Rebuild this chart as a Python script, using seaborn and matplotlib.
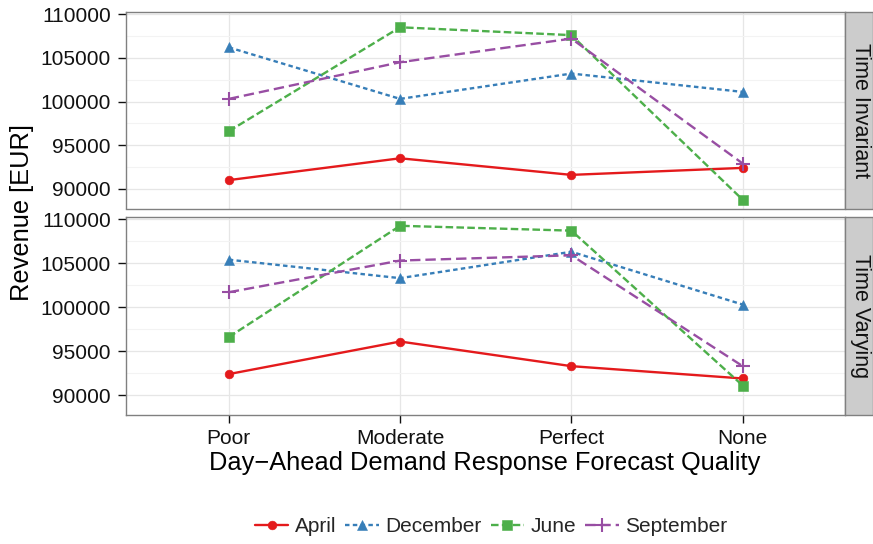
import matplotlib
matplotlib.use("Agg")
import matplotlib.pyplot as plt
from matplotlib.patches import Rectangle
from matplotlib.ticker import MultipleLocator
import seaborn as sns
import pandas as pd

quality = ["Poor", "Moderate", "Perfect", "None"]
months = ["April", "December", "June", "September"]
panels = ["Time Invariant", "Time Varying"]

inv_april = [91000, 93500, 91600, 92400]
inv_december = [106200, 100300, 103200, 101100]
inv_june = [96600, 108500, 107600, 88750]
inv_september = [100300, 104500, 107200, 92900]

var_april = [92400, 96100, 93300, 91900]
var_december = [105400, 103300, 106300, 100300]
var_june = [96600, 109250, 108700, 91100]
var_september = [101700, 105300, 105900, 93300]

values = {
    "Time Invariant": [inv_april, inv_december, inv_june, inv_september],
    "Time Varying": [var_april, var_december, var_june, var_september],
}

rows = []
for p in panels:
    for m, vals in zip(months, values[p]):
        for q, v in zip(quality, vals):
            rows.append({"panel": p, "month": m, "quality": q, "revenue": v})
df = pd.DataFrame(rows)

colors = {"April": "#E41A1C", "December": "#377EB8", "June": "#4DAF4A", "September": "#984EA3"}
dashes = {"April": "", "December": (1.9, 1.4), "June": (3.2, 1.4), "September": (4.4, 2.1)}
# "P" is swapped for a thin "+" after drawing (seaborn refuses to mix filled and line markers)
markers = {"April": "o", "December": "^", "June": "s", "September": "P"}
msizes = {"o": 6.3, "^": 7.7, "s": 7.0, "+": 9.4}

sns.set_style("white")
plt.rcParams["font.family"] = ["Liberation Sans", "DejaVu Sans"]

fig = plt.figure(figsize=(8.73, 5.44), dpi=100)
W, H = 873, 544
L, R = 126, 845.5
ax1 = fig.add_axes([L / W, 1 - 208.5 / H, (R - L) / W, (208.5 - 12) / H])
ax2 = fig.add_axes([L / W, 1 - 415 / H, (R - L) / W, (415 - 217) / H], sharex=ax1, sharey=ax1)

def style_markers(lines):
    for ln in lines:
        c = ln.get_color()
        if ln.get_marker() == "P":
            ln.set_marker("+")
        mk = ln.get_marker()
        ln.set_markeredgecolor(c)
        ln.set_markerfacecolor(c)
        if mk == "+":
            ln.set_markeredgewidth(1.5)
        else:
            ln.set_markeredgewidth(0.4)
        if mk in msizes:
            ln.set_markersize(msizes[mk])

for ax, p in zip([ax1, ax2], panels):
    sub = df[df["panel"] == p]
    sns.lineplot(data=sub, x="quality", y="revenue", hue="month", style="month",
                 hue_order=months, style_order=months, palette=colors,
                 dashes=dashes, markers=markers, sort=False, estimator=None,
                 linewidth=1.7, ax=ax, legend=(ax is ax1))
    style_markers(ax.lines)
    ax.set_facecolor("white")
    ax.yaxis.set_major_locator(MultipleLocator(5000))
    ax.yaxis.set_minor_locator(MultipleLocator(2500))
    ax.grid(True, which="major", color="#E6E6E6", linewidth=0.9, zorder=0)
    ax.grid(True, which="minor", axis="y", color="#F3F3F3", linewidth=0.8, zorder=0)
    ax.set_axisbelow(True)
    for s in ax.spines.values():
        s.set_color("#808080")
        s.set_linewidth(1.0)
    ax.set_xlabel("")
    ax.set_ylabel("")
    ax.tick_params(axis="both", which="major", labelsize=15, colors="#111111",
                   length=5.5, width=1.0, direction="out", pad=5.5, left=True, bottom=True)
    ax.tick_params(axis="x", which="major", pad=4.5)
    ax.tick_params(axis="y", which="minor", length=0)
    sw = 28 / (R - L)
    ax.add_patch(Rectangle((1.0, 0.0), sw, 1.0, transform=ax.transAxes, clip_on=False,
                           facecolor="#CCCCCC", edgecolor="#808080", linewidth=1.0, zorder=5))
    ax.text(1.0 + sw / 2 + 0.001, 0.5, p, transform=ax.transAxes, rotation=-90,
            ha="center", va="center", fontsize=15.5, color="#111111", zorder=6)

ax1.set_xlim(-0.6, 3.6)
ax1.set_ylim(87750, 110250)
ax1.tick_params(axis="x", which="both", bottom=False, labelbottom=False)

handles, labels = ax1.get_legend_handles_labels()
ax1.get_legend().remove()
style_markers(handles)
fig.legend(handles, labels, loc="center", bbox_to_anchor=(491 / W, 1 - 527 / H),
           ncol=4, frameon=False, fontsize=15, handlelength=1.6, handletextpad=0.3,
           columnspacing=0.45)

fig.text(485 / W, 1 - 463 / H,
         "Day\u2212Ahead Demand Response Forecast Quality", ha="center", va="center",
         fontsize=18.3, color="black")
fig.text(22 / W, 1 - 213 / H, "Revenue [EUR]", rotation=90, ha="center", va="center",
         fontsize=18.3, color="black")

fig.savefig("out.png", dpi=100)
